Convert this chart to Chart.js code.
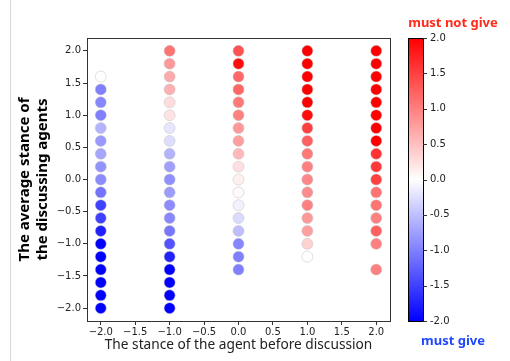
<!DOCTYPE html>
<html>
<head>
<meta charset="utf-8">
<script src="https://cdn.jsdelivr.net/npm/chart.js@4"></script>
<style>
  html, body { margin: 0; padding: 0; background: #fff; }
  #wrap { position: relative; width: 510px; height: 361px; }
  #edge { position: absolute; left: 10px; top: 0; width: 1px; height: 361px; background: #d6d6d6; }
</style>
</head>
<body>
<div id="wrap">
  <canvas id="scatterCanvas" width="510" height="361"></canvas>
  <div id="edge"></div>
</div>
<script>
// stance of the agent before discussion (one column per stance)
const stanceBefore = [-2, -1, 0, 1, 2];

// average stance of the discussing agents, per column
const avgStance = [
    [1.6, 1.4, 1.2, 1.0, 0.8, 0.6, 0.4, 0.2, 0.0, -0.2, -0.4, -0.6, -0.8, -1.0, -1.2, -1.4, -1.6, -1.8, -2.0],
    [2.0, 1.8, 1.6, 1.4, 1.2, 1.0, 0.8, 0.6, 0.4, 0.2, 0.0, -0.2, -0.4, -0.6, -0.8, -1.0, -1.2, -1.4, -1.6, -1.8, -2.0],
    [2.0, 1.8, 1.6, 1.4, 1.2, 1.0, 0.8, 0.6, 0.4, 0.2, 0.0, -0.2, -0.4, -0.6, -0.8, -1.0, -1.2, -1.4],
    [2.0, 1.8, 1.6, 1.4, 1.2, 1.0, 0.8, 0.6, 0.4, 0.2, 0.0, -0.2, -0.4, -0.6, -0.8, -1.0, -1.2],
    [2.0, 1.8, 1.6, 1.4, 1.2, 1.0, 0.8, 0.6, 0.4, 0.2, 0.0, -0.2, -0.4, -0.6, -0.8, -1.0, -1.4]
];

// stance after discussion (colour), per column
const stanceAfter = [
    [0, -1.0, -0.95, -1.0, -0.6, -0.8, -0.7, -0.85, -0.9, -1.1, -1.5, -1.5, -1.75, -2, -2, -2, -2, -2, -2],
    [1.1, 0.8, 0.67, 0.62, 0.27, 0.22, -0.2, -0.27, -0.6, -0.75, -0.88, -0.78, -0.9, -0.93, -1.06, -1.35, -1.73, -2, -2, -2, -2],
    [1.35, 1.9, 1.2, 1.2, 1.05, 1.0, 0.8, 0.75, 0.55, 0.25, 0.12, 0.05, -0.1, -0.28, -0.5, -0.95, -1.0, -1.0],
    [2, 2, 2, 2, 2, 1.9, 1.5, 1.25, 1.05, 1.0, 0.95, 0.9, 1.0, 0.8, 0.75, 0.35, 0],
    [2, 2, 2, 2, 2, 2, 2, 2, 1.6, 1.55, 1.5, 1.1, 1.1, 1.0, 1.25, 1.0, 1.0]
];

const axisTicks = [-2.0, -1.5, -1.0, -0.5, 0.0, 0.5, 1.0, 1.5, 2.0];
const cbarTicks = [-2.0, -1.5, -1.0, -0.5, 0.0, 0.5, 1.0, 1.5, 2.0];

// matplotlib "bwr" colormap, vmin -2, vmax 2
function bwr(v) {
    let t = (v + 2) / 4;
    t = Math.max(0, Math.min(1, t));
    let r, g, b;
    if (t < 0.5) {
        r = g = Math.round(510 * t);
        b = 255;
    } else {
        r = 255;
        g = b = Math.round(510 * (1 - t));
    }
    return "rgb(" + r + "," + g + "," + b + ")";
}

let points = [];
let colors = [];
stanceBefore.forEach((x, i) => {
    avgStance[i].forEach((y, j) => {
        points.push({ x: x, y: y });
        colors.push(bwr(stanceAfter[i][j]));
    });
});

const fixTicks = (vals) => (scale) => { scale.ticks = vals.map(v => ({ value: v })); };
const minus = (v) => v.toFixed(1).replace("-", "\u2212");

// fixed scale sizes, no extra label padding around the plot box
const fitTo = (key, size) => (s) => {
    s[key] = size;
    s.paddingTop = s.paddingBottom = s.paddingLeft = s.paddingRight = 0;
};

const tickFont = { family: "DejaVu Sans", size: 10 };

const frameAndColorbar = {
    id: "frameAndColorbar",
    afterDraw(chart) {
        const ctx = chart.ctx;
        const a = chart.chartArea;
        ctx.save();
        ctx.strokeStyle = "#333";
        ctx.lineWidth = 1;
        ctx.strokeRect(Math.round(a.left) + 0.5, Math.round(a.top) + 0.5,
            Math.round(a.right - a.left), Math.round(a.bottom - a.top));

        // colorbar
        const cb = chart.scales.cb;
        const x0 = a.right + 18, w = 15;
        const top = cb.getPixelForValue(2), bot = cb.getPixelForValue(-2);
        const grad = ctx.createLinearGradient(0, top, 0, bot);
        grad.addColorStop(0, bwr(2));
        grad.addColorStop(0.5, bwr(0));
        grad.addColorStop(1, bwr(-2));
        ctx.fillStyle = grad;
        ctx.fillRect(x0, top, w, bot - top);
        ctx.strokeStyle = "#000";
        ctx.strokeRect(x0 + 0.5, Math.round(top) + 0.5, w, Math.round(bot - top));
        ctx.strokeStyle = "#333";
        cbarTicks.forEach(v => {
            const y = Math.round(cb.getPixelForValue(v)) + 0.5;
            ctx.beginPath();
            ctx.moveTo(x0 + w, y);
            ctx.lineTo(x0 + w + 4, y);
            ctx.stroke();
        });

        ctx.font = "bold 13px 'Noto Sans'";
        ctx.textAlign = "center";
        ctx.textBaseline = "middle";
        ctx.fillStyle = "#ff2a1a";
        ctx.fillText("must not give", x0 + 45, 23);
        ctx.fillStyle = "#1f48ff";
        ctx.fillText("must give", x0 + 45, 341);
        ctx.restore();
    }
};

const scatterChart = new Chart(document.getElementById("scatterCanvas"), {
    type: "scatter",
    data: {
        datasets: [
            {
                data: points,
                backgroundColor: colors,
                borderColor: "rgba(190,190,190,0.8)",
                borderWidth: 0.6,
                pointRadius: 5.5,
                pointHoverRadius: 5.5
            }
        ]
    },
    options: {
        responsive: false,
        animation: false,
        layout: { padding: { top: 38, left: 0, right: 0, bottom: 0 } },
        plugins: { legend: { display: false }, tooltip: { enabled: false } },
        scales: {
            x: {
                type: "linear",
                min: -2.2,
                max: 2.2,
                afterBuildTicks: fixTicks(axisTicks),
                afterFit: fitTo("height", 40),
                grid: { drawOnChartArea: false, drawTicks: true, tickLength: 4, color: "#333" },
                border: { display: true, color: "#333" },
                ticks: { font: tickFont, color: "#222", padding: 1, maxRotation: 0, callback: minus },
                title: {
                    display: true,
                    text: "The stance of the agent before discussion",
                    font: { family: "Noto Sans", size: 13.7 },
                    color: "#222",
                    padding: { top: 0, bottom: 8 }
                }
            },
            y: {
                type: "linear",
                min: -2.2,
                max: 2.2,
                afterBuildTicks: fixTicks(axisTicks),
                afterFit: fitTo("width", 87),
                grid: { drawOnChartArea: false, drawTicks: true, tickLength: 4, color: "#333" },
                border: { display: true, color: "#333" },
                ticks: { font: tickFont, color: "#222", padding: 2, callback: minus },
                title: {
                    display: true,
                    text: ["The average stance of", "the discussing agents"],
                    font: { family: "Noto Sans", size: 15, weight: "bold" },
                    color: "#000",
                    padding: { top: 16, bottom: 0 }
                }
            },
            cb: {
                type: "linear",
                position: "right",
                min: -2,
                max: 2,
                afterBuildTicks: fixTicks(cbarTicks),
                afterFit: fitTo("width", 120),
                grid: { display: false, drawTicks: false },
                border: { display: false },
                ticks: { font: tickFont, color: "#222", padding: 40, callback: (v) => v.toFixed(1) }
            }
        }
    },
    plugins: [frameAndColorbar]
});
</script>
</body>
</html>
